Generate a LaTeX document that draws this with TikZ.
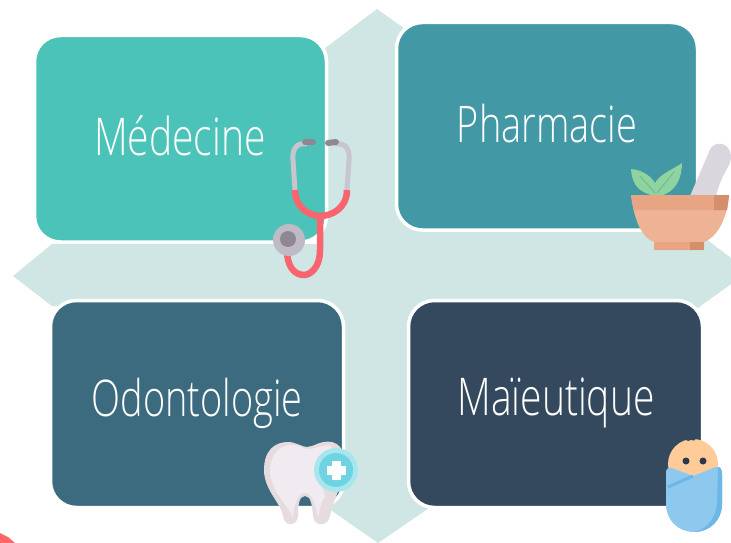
\documentclass[tikz,border=0pt]{standalone}
\usepackage{fontspec}
\setmainfont{Open Sans Light}[FakeStretch=0.75]
\tikzset{
  card/.style={draw=white,line width=3.5pt,rounded corners=26pt},
  cardtext/.style={text=white,font=\fontsize{52}{55}\selectfont,inner sep=0pt},
  cardtextb/.style={text=white,font=\fontsize{50.5}{55}\selectfont,inner sep=0pt},
}
\definecolor{crosscol}{HTML}{CFE6E4}
\definecolor{medcol}{HTML}{4CC3B9}
\definecolor{phacol}{HTML}{4398A5}
\definecolor{odocol}{HTML}{3C6A7E}
\definecolor{maicol}{HTML}{35495E}
\definecolor{redc}{HTML}{F9656E}
\definecolor{grayc}{HTML}{C9C5D0}
\definecolor{earc}{HTML}{8F8894}
\definecolor{bowl}{HTML}{E8A584}
\definecolor{bowlb}{HTML}{EDB394}
\definecolor{bowld}{HTML}{D68F6C}
\definecolor{bluec}{HTML}{8DC9EE}
\definecolor{blued}{HTML}{6CB7E8}
\definecolor{leafa}{HTML}{8FD3A0}
\definecolor{leafb}{HTML}{6FBF8E}
\definecolor{toothc}{HTML}{F0EBF1}
\definecolor{toothd}{HTML}{E6DBDF}
\definecolor{ringa}{HTML}{A8E6EE}
\definecolor{ringb}{HTML}{6FD3E3}
\begin{document}
\begin{tikzpicture}[x=1pt,y=-1pt]
\useasboundingbox (0,0) rectangle (731,543);
\fill[white] (0,0) rectangle (731,543);
% cross
\fill[crosscol] (377,9) -- (320,52) -- (320,244) -- (52,244) -- (13,276) -- (52,306)
  -- (325,306) -- (325,506) -- (378,543) -- (432,506) -- (432,310) -- (695,310)
  -- (731,284) -- (731,258) -- (697,232) -- (432,232) -- (432,48) -- cycle;
% cards
\draw[card,fill=medcol] (34.5,35.5) rectangle (326.5,242);
\draw[card,fill=phacol] (396.5,22.5) rectangle (697.5,230);
\draw[card,fill=odocol] (50.5,300.5) rectangle (343.5,507.5);
\draw[card,fill=maicol] (408.5,300.5) rectangle (702.5,507.5);
\node[cardtext] (med) at (180,136) {Médecine};
\node[cardtextb] (pha) at (547,124) {Pharmacie};
\node[cardtextb] (odo) at (197,403) {Odontologie};
\node[cardtext] (mai) at (556,403) {Maïeutique};
% stethoscope
\draw[grayc,line width=5pt] (307,144) .. controls (296,142) and (292,150) .. (293,160) -- (295,190);
\draw[grayc,line width=5pt] (335,144) .. controls (346,142) and (350,150) .. (349,160) -- (347,190);
\draw[redc,line width=6.5pt] (295,190) .. controls (295,208) and (310,216) .. (320,216)
  .. controls (332,216) and (347,208) .. (347,190);
\draw[redc,line width=6.5pt] (320,216) -- (320,250) .. controls (320,268) and (310,275) .. (304,275)
  .. controls (294,275) and (287,266) .. (287,250);
\draw[line cap=round,line width=6pt,color=earc] (305,142) -- (313,142);
\draw[line cap=round,line width=6pt,color=earc] (328,143) -- (336,142);
\fill[grayc!95!black] (289,240) circle[radius=16];
\fill[earc] (288,239) circle[radius=8];
% mortar
\fill[grayc!70!white] (690,196) -- (709,152) .. controls (712,140) and (731,140) .. (731,158)
  .. controls (730,168) and (722,172) .. (716,196) -- cycle;
\fill[leafa] (655,196) .. controls (636,192) and (632,182) .. (631,169)
  .. controls (644,170) and (652,178) .. (655,183)
  .. controls (660,174) and (672,170) .. (682,163)
  .. controls (682,178) and (676,192) .. (660,196) -- cycle;
\draw[leafb,line width=1pt] (640,176) -- (655,193);
\draw[leafb,line width=1pt] (674,172) -- (657,193);
\fill[bowlb] (631,195) -- (729,195) .. controls (727,222) and (715,238) .. (704,242) -- (704,250) -- (654,250) -- (654,242)
  .. controls (642,238) and (634,220) .. (631,195) -- cycle;
\fill[bowl] (631,195) -- (729,195) -- (727,210) -- (634,210) -- cycle;
\fill[bowld] (714,195) -- (729,195) -- (727,210) -- (714,210) -- cycle;
\fill[bowl] (654,242) -- (704,242) -- (704,250) -- (654,250) -- cycle;
\fill[bowld] (690,242) -- (704,242) -- (704,250) -- (690,250) -- cycle;
% tooth
\fill[toothd] (264,470) .. controls (264,450) and (275,442) .. (288,442)
  .. controls (296,442) and (302,447) .. (307,447) .. controls (314,447) and (320,440) .. (332,442)
  .. controls (345,445) and (347,462) .. (342,480) .. controls (337,495) and (332,505) .. (330,516)
  .. controls (328,527) and (314,527) .. (313,516) .. controls (312,505) and (311,496) .. (305,496)
  .. controls (299,496) and (298,505) .. (298,516) .. controls (297,527) and (284,527) .. (283,516)
  .. controls (281,503) and (264,490) .. (264,470) -- cycle;
\fill[toothc] (270,470) .. controls (270,455) and (280,445) .. (292,445)
  .. controls (300,445) and (304,449) .. (308,449) .. controls (316,449) and (322,444) .. (332,446)
  .. controls (320,470) and (322,490) .. (325,497) .. controls (320,503) and (320,510) .. (318,518)
  .. controls (316,505) and (312,493) .. (305,493) .. controls (297,493) and (294,505) .. (293,518)
  .. controls (288,505) and (270,490) .. (270,470) -- cycle;
\fill[ringa] (336,470) circle[radius=22];
\fill[ringb] (336,470) circle[radius=17];
\fill[white] (332,461) rectangle (341,480);
\fill[white] (327,466) rectangle (346,475);
% baby
\fill[orange!40!white] (693,464) circle[radius=25];
\fill[maicol!80!black] (686,461) circle[radius=3.5];
\fill[maicol!80!black] (703,461) circle[radius=3.5];
\draw[maicol,line width=1.6pt] (682,433) .. controls (686,442) and (692,442) .. (690,436) .. controls (692,443) and (698,440) .. (694,431);
\fill[bluec] (666,472) .. controls (666,468) and (670,467) .. (672,468) -- (693,476) -- (716,467)
  .. controls (720,466) and (722,470) .. (722,474) -- (722,504) .. controls (722,520) and (710,532) .. (694,532)
  .. controls (678,532) and (666,520) .. (666,504) -- cycle;
\fill[blued] (718,467) .. controls (721,467) and (722,470) .. (722,474) -- (722,504) .. controls (722,520) and (710,532) .. (694,532)
  .. controls (706,530) and (716,518) .. (717,504) -- cycle;
\draw[blued,line width=3pt] (668,487) -- (693,476);
% red specks bottom-left
\fill[red!60!white] (0,533) -- (8,537) -- (15,543) -- (0,543) -- cycle;
\end{tikzpicture}
\end{document}
